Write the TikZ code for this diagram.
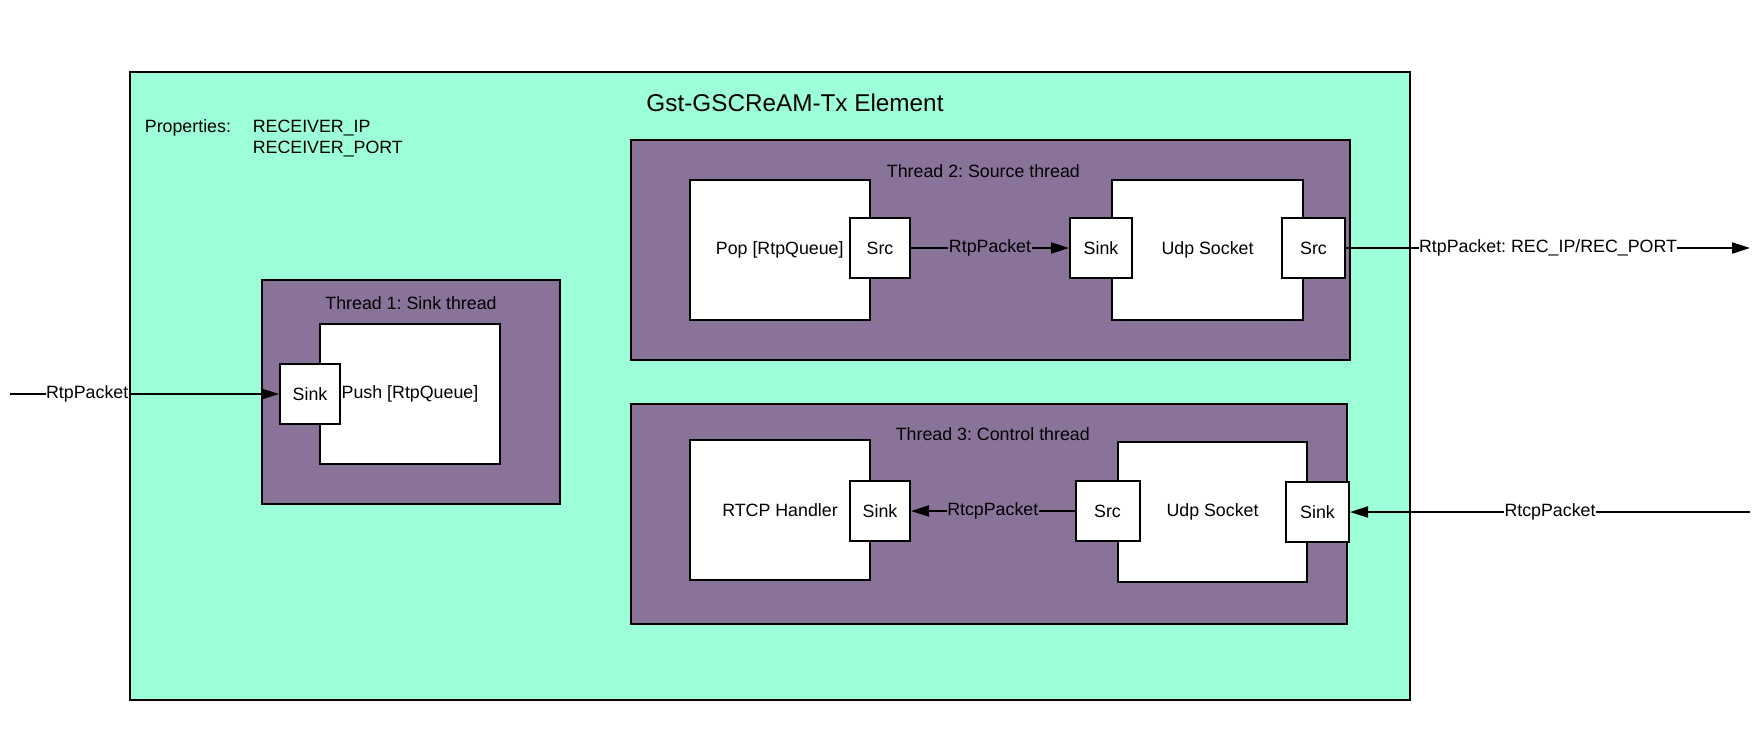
\documentclass[tikz,border=0pt]{standalone}
\usepackage{fontspec}
\setmainfont{Liberation Sans}
\usetikzlibrary{arrows.meta}
\frenchspacing
\definecolor{mint}{HTML}{9CFFD8}
\definecolor{pur}{HTML}{8A7399}
\tikzset{
  txt/.style={font=\fontsize{17.8}{21}\selectfont\frenchspacing, inner sep=0pt},
  ttlfont/.style={font=\fontsize{24.3}{28}\selectfont, inner sep=0pt},
  sz/.style 2 args={minimum width=#1pt, minimum height=#2pt},
  outerbox/.style={draw, line width=2pt, fill=mint, inner sep=0pt},
  thr/.style={draw, line width=2pt, fill=pur, inner sep=0pt},
  blk/.style={draw, line width=2pt, fill=white, inner sep=0pt, font=\fontsize{17.8}{21}\selectfont\frenchspacing},
  port/.style={draw, line width=2pt, fill=white, inner sep=0pt, font=\fontsize{17.8}{21}\selectfont},
  conn/.style={line width=2pt, -{Triangle[length=18pt,width=11pt]}},
  lbl/.style={font=\fontsize{17.8}{21}\selectfont\frenchspacing, inner sep=0.5pt}
}
\begin{document}
\begin{tikzpicture}[x=1pt,y=-1pt]
\useasboundingbox (0,0) rectangle (1760,729);
% outer element
\node[outerbox, sz={1280}{628}] (outer) at (770,386) {};
\node[ttlfont] (ttl) at (795,103) {Gst-GSCReAM-Tx Element};
\node[txt, anchor=base west] (props) at (144.7,132) {Properties:};
\node[txt, anchor=base west] (rip) at (252.6,132) {RECEIVER\_IP};
\node[txt, anchor=base west] (rport) at (252.6,153.7) {RECEIVER\_PORT};
% thread 1
\node[thr, sz={298.5}{224}] (t1) at (410.75,392) {};
\node[txt] (t1lbl) at (411,303.5) {Thread 1: Sink thread};
\node[blk, sz={180}{140}] (push) at (410,394) {Push [RtpQueue]};
\node[port, sz={60}{60}] (sk1) at (310,394) {Sink};
% thread 2
\node[thr, sz={719}{220}] (t2) at (990.5,250) {};
\node[txt] (t2lbl) at (983.4,171) {Thread 2: Source thread};
\node[blk, sz={180.5}{140}] (pop) at (779.75,250) {Pop [RtpQueue]};
\node[port, sz={60}{60}] (sr1) at (880,248) {Src};
\node[blk, sz={191}{140}] (udp1) at (1207.5,250) {Udp Socket};
\node[port, sz={62}{60}] (sk2) at (1101,248) {Sink};
\node[port, sz={63}{60}] (sr2) at (1313.5,248) {Src};
% thread 3
\node[thr, sz={716.5}{220}] (t3) at (988.75,514) {};
\node[txt] (t3lbl) at (992.8,434.5) {Thread 3: Control thread};
\node[blk, sz={180}{140}] (rtcp) at (780,510) {RTCP Handler};
\node[port, sz={60}{60}] (sk3) at (880,511) {Sink};
\node[blk, sz={189}{140}] (udp2) at (1212.5,512) {Udp Socket};
\node[port, sz={64}{60}] (sr3) at (1107.5,511) {Src};
\node[port, sz={63}{60}] (sk4) at (1317.5,512) {Sink};
% free ends
\coordinate (inL) at (10,394);
\coordinate (outR) at (1750,248);
\coordinate (inR) at (1750,512);
% connectors
\draw[conn] (inL) -- node[lbl, fill=white, pos=0.287] {RtpPacket} (sk1.west);
\draw[conn] (sr1.east) -- node[lbl, fill=pur] {RtpPacket} (sk2.west);
\draw[conn] (sr2.east) -- node[lbl, fill=white] {RtpPacket: REC\_IP/REC\_PORT} (outR);
\draw[conn] (inR) -- node[lbl, fill=white] {RtcpPacket} (sk4.east);
\draw[conn] (sr3.west) -- node[lbl, fill=pur] {RtcpPacket} (sk3.east);
\end{tikzpicture}
\end{document}
